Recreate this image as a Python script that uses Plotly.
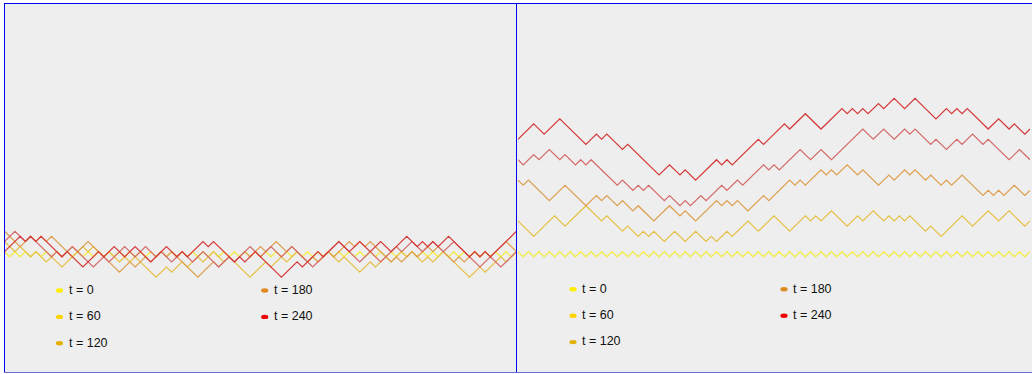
import plotly.graph_objects as go

W, H = 1032, 374

# lattice sites 0..98; heights are integers, neighbouring sites differ by +-1
SITES = 98

# flat starting interface
flat_t0 = [1, 0, 1, 0, 1, 0, 1, 0, 1, 0, 1, 0, 1, 0, 1, 0, 1, 0, 1, 0,
           1, 0, 1, 0, 1, 0, 1, 0, 1, 0, 1, 0, 1, 0, 1, 0, 1, 0, 1, 0,
           1, 0, 1, 0, 1, 0, 1, 0, 1, 0, 1, 0, 1, 0, 1, 0, 1, 0, 1, 0,
           1, 0, 1, 0, 1, 0, 1, 0, 1, 0, 1, 0, 1, 0, 1, 0, 1, 0, 1, 0,
           1, 0, 1, 0, 1, 0, 1, 0, 1, 0, 1, 0, 1, 0, 1, 0, 1, 0, 1]

# interface corners (site, height) -- left panel
left_t60 = [(0, 3), (2, 1), (3, 2), (5, 0), (6, 1), (8, -1), (9, 0), (11, -2),
            (15, 2), (16, 1), (17, 2), (19, 0), (20, 1), (22, -1), (23, 0),
            (24, -1), (25, 0), (29, -4), (31, -2), (32, -3), (34, -1), (35, -2),
            (37, 0), (38, -1), (40, 1), (42, -1), (43, 0), (47, -4), (50, -1),
            (51, -2), (53, 0), (54, -1), (56, 1), (58, -1), (59, 0), (60, -1),
            (62, 1), (64, -1), (65, 0), (68, -3), (70, -1), (71, -2), (73, 0),
            (74, -1), (76, 1), (77, 0), (78, 1), (80, -1), (81, 0), (82, -1),
            (84, 1), (89, -4), (91, -2), (92, -3), (95, 0), (96, -1), (98, 1)]
left_t120 = [(0, 5), (3, 2), (5, 4), (6, 3), (7, 4), (8, 3), (9, 4), (12, 1),
             (13, 2), (14, 1), (16, 3), (22, -3), (24, -1), (25, -2), (27, 0),
             (28, -1), (30, 1), (31, 0), (32, 1), (37, -4), (40, -1), (41, -2),
             (43, 0), (44, -1), (46, 1), (47, 0), (49, 2), (50, 1), (52, 3),
             (54, 1), (55, 2), (58, -1), (59, 0), (60, -1), (62, 1), (63, 0),
             (66, 3), (67, 2), (68, 3), (69, 2), (70, 3), (74, -1), (75, 0),
             (76, -1), (78, 1), (79, 0), (81, 2), (82, 1), (83, 2), (86, -1),
             (87, 0), (88, -1), (90, 1), (91, 0), (92, 1), (93, 0), (96, 3),
             (98, 1)]
left_t180 = [(0, 3), (2, 5), (4, 3), (5, 4), (9, 0), (10, 1), (11, 0), (13, 2),
             (17, -2), (19, 0), (20, -1), (23, 2), (25, 0), (27, 2), (29, 0),
             (30, 1), (32, -1), (34, 1), (36, -1), (38, 1), (41, -2), (43, 0),
             (44, -1), (47, 2), (49, 0), (51, 2), (53, 0), (55, 2), (57, 0),
             (59, -2), (62, 1), (64, 3), (68, -1), (70, 1), (72, -1), (75, 2),
             (76, 1), (78, 3), (80, 1), (82, 3), (84, 1), (86, 3), (88, 1),
             (91, -2), (93, 0), (95, -2), (98, 1)]
left_t240 = [(0, 1), (3, 4), (4, 3), (5, 4), (6, 3), (7, 4), (11, 0), (12, 1),
             (15, -2), (18, 1), (19, 0), (21, 2), (23, 0), (25, 2), (28, -1),
             (31, 2), (33, 0), (34, 1), (35, 0), (38, 3), (39, 2), (40, 3),
             (44, -1), (45, 0), (46, -1), (48, 1), (53, -4), (56, -1), (57, -2),
             (60, 1), (61, 0), (64, 3), (66, 1), (68, 3), (70, 1), (72, 3),
             (74, 1), (77, 4), (79, 2), (80, 3), (81, 2), (82, 3), (83, 2),
             (85, 4), (89, 0), (90, 1), (91, 0), (92, 1), (93, 0), (98, 5)]

# interface corners (site, height) -- right panel
right_t60 = [(0, 7), (3, 4), (7, 8), (9, 6), (13, 10), (16, 7), (17, 8), (20, 5),
             (21, 6), (23, 4), (24, 5), (25, 4), (26, 5), (28, 3), (30, 5),
             (32, 3), (34, 5), (36, 3), (37, 4), (38, 3), (40, 5), (41, 4),
             (44, 7), (46, 5), (49, 8), (52, 5), (55, 8), (56, 7), (57, 8),
             (58, 7), (60, 9), (63, 6), (65, 8), (66, 7), (68, 9), (70, 7),
             (71, 8), (72, 7), (73, 8), (74, 7), (75, 8), (78, 5), (79, 6),
             (81, 4), (85, 8), (87, 6), (90, 9), (92, 7), (94, 9), (97, 6),
             (98, 7)]
right_t120 = [(0, 15), (1, 14), (2, 15), (6, 11), (9, 14), (13, 10), (15, 12),
              (16, 11), (17, 12), (19, 10), (20, 11), (22, 9), (23, 10), (26, 7),
              (29, 10), (31, 8), (32, 9), (34, 7), (38, 11), (39, 10), (40, 11),
              (41, 10), (42, 11), (44, 9), (47, 12), (48, 11), (52, 15), (53, 14),
              (54, 15), (55, 14), (58, 17), (59, 16), (60, 17), (61, 16), (63, 18),
              (65, 16), (66, 17), (69, 14), (71, 16), (72, 15), (74, 17), (75, 16),
              (76, 17), (78, 15), (79, 16), (81, 14), (82, 15), (83, 14), (85, 16),
              (89, 12), (90, 13), (91, 12), (92, 13), (93, 12), (95, 14), (97, 12),
              (98, 13)]
right_t180 = [(0, 19), (1, 18), (3, 20), (4, 19), (6, 21), (8, 19), (9, 20),
              (11, 18), (12, 19), (13, 18), (14, 19), (19, 14), (20, 15), (22, 13),
              (23, 14), (24, 13), (25, 14), (28, 11), (29, 12), (31, 10), (32, 11),
              (33, 10), (35, 12), (36, 11), (39, 14), (40, 13), (42, 15), (43, 14),
              (47, 18), (48, 17), (49, 18), (50, 17), (54, 21), (56, 19), (58, 21),
              (60, 19), (66, 25), (68, 23), (70, 25), (72, 23), (74, 25), (75, 24),
              (76, 25), (79, 22), (80, 23), (82, 21), (84, 23), (85, 22), (87, 24),
              (89, 22), (90, 23), (94, 19), (96, 21), (98, 19)]
right_t240 = [(0, 23), (3, 26), (5, 24), (8, 27), (13, 22), (15, 24), (16, 23),
              (17, 24), (20, 21), (21, 22), (27, 16), (29, 18), (31, 16), (32, 17),
              (34, 15), (38, 19), (39, 18), (40, 19), (41, 18), (46, 23), (47, 22),
              (51, 26), (52, 25), (55, 28), (58, 25), (62, 29), (63, 28), (64, 29),
              (65, 28), (66, 29), (67, 28), (69, 30), (70, 29), (72, 31), (74, 29),
              (76, 31), (80, 27), (82, 29), (83, 28), (84, 29), (85, 28), (86, 29),
              (90, 25), (92, 27), (94, 25), (95, 26), (97, 24), (98, 25)]

labels = ["t = 0", "t = 60", "t = 120", "t = 180", "t = 240"]
line_colors = ["#f3ec48", "#e6c046", "#dd9f4e", "#d46a6a", "#d53a3a"]
key_colors = ["#ffee00", "#ffd400", "#e2b000", "#e0891e", "#f00000"]

panels = [
    ("x", "y", [left_t60, left_t120, left_t180, left_t240]),
    ("x2", "y2", [right_t60, right_t120, right_t180, right_t240]),
]

fig = go.Figure()
for xa, ya, series in panels:
    fig.add_trace(go.Scatter(
        x=list(range(len(flat_t0))), y=flat_t0, mode="lines",
        line=dict(color=line_colors[0], width=1.3),
        xaxis=xa, yaxis=ya, showlegend=False, hoverinfo="skip"))
    for k, pts in enumerate(series, start=1):
        fig.add_trace(go.Scatter(
            x=[p[0] for p in pts], y=[p[1] for p in pts], mode="lines",
            line=dict(color=line_colors[k], width=1.2),
            xaxis=xa, yaxis=ya, showlegend=False, hoverinfo="skip"))


def px(x):
    return x / W


def py(y):
    return 1 - y / H


top, bottom = 4, 373
y_lo, y_hi = -22.74, 49.47
axis_common = dict(visible=False, fixedrange=True, showgrid=False, zeroline=False)
fig.update_layout(
    width=W, height=H, margin=dict(l=0, r=0, t=0, b=0),
    paper_bgcolor="white", plot_bgcolor="rgba(0,0,0,0)",
    xaxis=dict(domain=[px(4.5), px(516.5)], range=[0, SITES], **axis_common),
    xaxis2=dict(domain=[px(518), px(1030)], range=[0, SITES], **axis_common),
    yaxis=dict(domain=[py(bottom), py(top)], range=[y_lo, y_hi], **axis_common),
    yaxis2=dict(domain=[py(bottom), py(top)], range=[y_lo, y_hi], anchor="x2",
                **axis_common),
    showlegend=False,
)

shapes = [
    dict(type="rect", xref="paper", yref="paper", x0=px(4), x1=px(W),
         y0=py(373), y1=py(4), fillcolor="#eeeeee", line=dict(width=0),
         layer="below"),
]
border = "#0000ee"
for x0, y0, x1, y1, col in [
    (4, 3.5, W, 3.5, border),
    (4.5, 3.5, 4.5, 373, border),
    (516.5, 3.5, 516.5, 373, border),
    (4, 372.5, W, 372.5, "#6a6ad8"),
]:
    shapes.append(dict(type="line", xref="paper", yref="paper",
                       x0=px(x0), y0=py(y0), x1=px(x1), y1=py(y1),
                       line=dict(color=col, width=1), layer="above"))

# two-column keys inside each panel
annotations = []
key_layout = [
    ((59.5, 264.7), 290.5),
    ((573.0, 784.0), 289.3),
]
row_gap = 26.4
for (col_x, row0) in key_layout:
    for k, lab in enumerate(labels):
        col, row = (0, k) if k < 3 else (1, k - 3)
        cx = col_x[col]
        cy = row0 + row * row_gap
        shapes.append(dict(type="circle", xref="paper", yref="paper",
                           x0=px(cx - 3.6), x1=px(cx + 3.6),
                           y0=py(cy + 2.2), y1=py(cy - 2.2),
                           fillcolor=key_colors[k], line=dict(width=0)))
        annotations.append(dict(
            xref="paper", yref="paper", x=px(cx + 7.0), y=py(cy - 0.8),
            xanchor="left", yanchor="middle", showarrow=False, text=lab,
            font=dict(family="Liberation Sans, Arial, sans-serif", size=12.5,
                      color="#111111")))

fig.update_layout(shapes=shapes, annotations=annotations)
fig.write_html("out.html")
